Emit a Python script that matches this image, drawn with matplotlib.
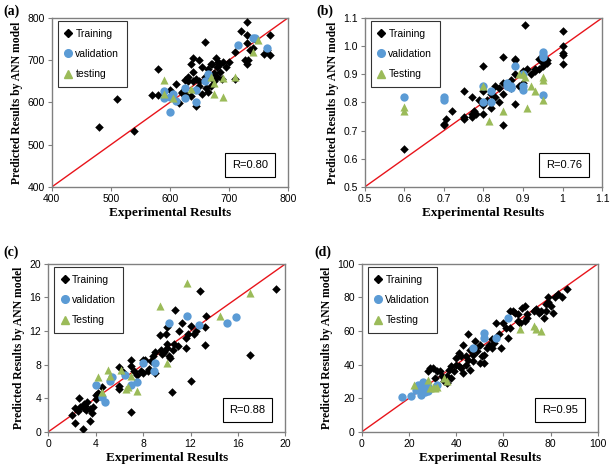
import matplotlib
matplotlib.use("Agg")
import matplotlib.pyplot as plt
from matplotlib.lines import Line2D

# ---------------- data ----------------
# panel (a)
a_train_x = [480,510,540,580,570,580,600,610,615,620,625,630,630,635,635,640,640,645,645,650,650,650,655,660,660,662,665,670,670,675,675,678,680,680,685,685,688,690,695,700,710,710,720,728,730,730,730,730,732,735,740,745,760,765,770,770,620,625,640,655,665,672,682]
a_train_y = [541,607,533,680,617,617,630,643,598,625,620,650,660,690,615,705,672,655,592,700,650,640,685,742,660,635,625,690,640,670,650,705,685,660,690,672,655,695,685,695,720,655,770,700,790,760,740,690,700,725,730,750,715,725,760,712,622,652,650,620,678,690,695]
a_val_x = [590,590,600,605,610,625,625,645,645,665,715,740,745,765,600,660]
a_val_y = [628,610,577,620,603,610,635,630,600,668,737,752,752,730,612,650]
a_test_x = [590,590,605,635,670,675,675,690,690,710,740,750]
a_test_y = [652,620,610,632,660,620,645,612,658,660,720,748]

# panel (b)
b_train_x = [0.6,0.7,0.7,0.705,0.72,0.75,0.75,0.75,0.77,0.77,0.78,0.775,0.79,0.8,0.8,0.8,0.81,0.82,0.82,0.83,0.83,0.84,0.84,0.85,0.85,0.85,0.85,0.86,0.87,0.88,0.88,0.88,0.88,0.89,0.9,0.905,0.91,0.92,0.93,0.94,0.94,0.95,0.95,0.96,0.96,1.0,1.0,1.0,1.0,1.0,0.8,0.82,0.77,0.9,0.87,0.93,0.95]
b_train_y = [0.635,0.72,0.725,0.74,0.77,0.74,0.75,0.84,0.82,0.75,0.76,0.77,0.81,0.93,0.76,0.79,0.81,0.8,0.78,0.86,0.82,0.85,0.8,0.96,0.72,0.87,0.83,0.86,0.88,0.955,0.95,0.795,0.9,0.86,0.91,1.075,0.92,0.9,0.91,0.92,0.955,0.93,0.94,0.94,0.95,1.055,1.0,0.97,0.975,0.935,0.84,0.83,0.76,0.87,0.85,0.92,0.955]
b_val_x = [0.6,0.7,0.7,0.8,0.8,0.82,0.82,0.86,0.86,0.87,0.87,0.88,0.9,0.9,0.95,0.95,0.95,0.95,0.9]
b_val_y = [0.82,0.81,0.82,0.86,0.8,0.84,0.8,0.87,0.86,0.85,0.86,0.93,0.86,0.845,0.98,0.97,0.96,0.825,0.9]
b_test_x = [0.6,0.6,0.8,0.815,0.85,0.89,0.9,0.905,0.91,0.92,0.93,0.95,0.95,0.95]
b_test_y = [0.785,0.77,0.86,0.735,0.77,0.9,0.9,0.89,0.78,0.86,0.84,0.89,0.88,0.81]

# panel (c)
c_train_x = [2,2.3,2.3,2.5,2.6,2.7,2.9,3,3,3.1,3.2,3.3,3.5,3.5,3.7,3.8,4,4,4.5,6,6,6,6.3,7,7,7,7.2,7.5,7.8,8,8,8.2,8.4,8.5,8.7,9,9,9.4,9.6,9.8,9.9,10,10,10.2,10.3,10.4,10.5,10.6,10.7,10.9,11,11.3,11.6,11.6,11.8,12,12,12.3,12.5,12.8,13.2,13.2,13.3,17,19.2,9.5,8.8,10,4.2]
c_train_y = [2,1.1,2.8,2.5,4,3,0.4,2.9,3.3,3.1,2.6,3.6,2.7,1.3,2.3,3,4.4,3.9,5.3,7.7,5.5,5.1,7.1,8.6,7.9,2.4,7.3,6.8,7.2,7,8.6,8.5,7.2,7.5,8.4,9.5,7,11.5,9.3,9.5,11.7,12.5,10.5,9,8.8,4.7,9.8,10.5,14.5,10.2,12,13,11.2,10,11.7,12.6,6,11.6,12,16.8,10.3,12.5,13.8,9.2,17,9.8,9,10,4.6]
c_val_x = [4,4.5,4.8,5.2,5.4,6.5,7,7.5,8,8.9,9,10.2,11.7,12.7,15.1,15.8]
c_val_y = [5.6,4.1,3.6,6,6.5,6.8,5.6,5.9,8.2,7.3,8.2,13,13.8,12.7,13,13.7]
c_test_x = [4.2,4.5,5,5.2,6.1,6.6,6.7,7,7.5,9.4,10,11.7,14.5,17]
c_test_y = [6.5,4.8,7.4,6.6,7.4,5.1,5.4,6.7,4.9,15,8.2,17.7,13.8,16.5]

# panel (d)
d_train_x = [28,29,30,31,32,33,35,36,37,38,38,39,40,40,41,42,42,43,43,44,45,45,46,46,47,47,48,49,50,50,51,52,52,53,54,55,56,57,58,59,60,61,62,63,64,65,66,67,68,69,69,70,70,73,74,75,76,77,78,78,79,80,81,82,83,85,87,36,34,44,48,41,55,63,66,79]
d_train_y = [36,38,38,32,36,36,30,33,37,39,32,36,40,44,47,38,45,35,52,40,58,43,49,37,42,46,54,48,52,41,45,41,46,50,52,55,53,65,58,50,65,62,56,72,72,71,70,65,74,75,66,68,70,72,73,71,72,68,72,76,77,75,71,80,82,80,85,29,33,45,50,39,50,62,66,80]
d_val_x = [17,21,23,24,25,25,26,27,28,28,32,47,52,52,57,62,24,26]
d_val_y = [20.5,21.5,25,28,27,22,29.5,24,24.5,27,28,50,56,59,56,68,26,25]
d_test_x = [22,28,29,30,31,32,35,36,67,73,74,76]
d_test_y = [28,31,26,27,26,26.5,32,30,61,63,61,60]

panels = [
    dict(tag="(a)", lim=(400, 800), ticks=[400, 500, 600, 700, 800], fmt="{:.0f}",
         tr=(a_train_x, a_train_y), va=(a_val_x, a_val_y), te=(a_test_x, a_test_y),
         names=["Training", "validation", "testing"], r="R=0.80"),
    dict(tag="(b)", lim=(0.5, 1.1), ticks=[0.5, 0.6, 0.7, 0.8, 0.9, 1.0, 1.1], fmt="{:.1f}",
         xfmt=["0.5", "0.6", "0.7", "0.8", "0.9", "1", "1.1"],
         tr=(b_train_x, b_train_y), va=(b_val_x, b_val_y), te=(b_test_x, b_test_y),
         names=["Training", "validation", "Testing"], r="R=0.76"),
    dict(tag="(c)", lim=(0, 20), ticks=[0, 4, 8, 12, 16, 20], fmt="{:.0f}",
         tr=(c_train_x, c_train_y), va=(c_val_x, c_val_y), te=(c_test_x, c_test_y),
         names=["Training", "validation", "Testing"], r="R=0.88"),
    dict(tag="(d)", lim=(0, 100), ticks=[0, 20, 40, 60, 80, 100], fmt="{:.0f}",
         tr=(d_train_x, d_train_y), va=(d_val_x, d_val_y), te=(d_test_x, d_test_y),
         names=["Training", "Validation", "Testing"], r="R=0.95"),
]

BLUE = "#5B9BD5"
GREEN = "#9BBB59"
RED = "#E8141B"
SANS = "Liberation Sans"
SERIF = "Liberation Serif"

W, H = 610, 472
fig = plt.figure(figsize=(W / 100, H / 100), dpi=100)
rects = [
    [0.085, 0.604, 0.387, 0.358],
    [0.598, 0.604, 0.389, 0.358],
    [0.079, 0.085, 0.389, 0.356],
    [0.593, 0.085, 0.387, 0.356],
]
tag_px = [(3, 11), (316, 11), (3, 252), (314, 252)]

for p, rect, tp in zip(panels, rects, tag_px):
    ax = fig.add_axes(rect)
    lo, hi = p["lim"]
    ax.set_xlim(lo, hi)
    ax.set_ylim(lo, hi)
    ax.plot([lo, hi], [lo, hi], color=RED, lw=1.0, zorder=1)
    ax.scatter(*p["tr"], marker="D", s=19, color="black", zorder=3, linewidths=0)
    ax.scatter(*p["va"], marker="o", s=36, color=BLUE, zorder=4, linewidths=0)
    ax.scatter(*p["te"], marker="^", s=34, color=GREEN, zorder=5, linewidths=0)
    ax.set_xticks(p["ticks"])
    ax.set_yticks(p["ticks"])
    xl = p.get("xfmt", [p["fmt"].format(t) for t in p["ticks"]])
    ax.set_xticklabels(xl, fontfamily=SANS, fontsize=7.5)
    ax.set_yticklabels([p["fmt"].format(t) for t in p["ticks"]], fontfamily=SANS, fontsize=7.5)
    ax.tick_params(direction="out", length=3, width=0.8, color="#808080", pad=2)
    for s in ax.spines.values():
        s.set_color("#808080")
        s.set_linewidth(1.0)
    ax.set_xlabel("Experimental Results", fontfamily=SERIF, fontweight="bold", fontsize=9.5, labelpad=2)
    ax.set_ylabel("Predicted Results by ANN model", fontfamily=SERIF, fontweight="bold", fontsize=8.4, labelpad=3)
    handles = [
        Line2D([], [], marker="D", ls="none", color="black", markersize=4),
        Line2D([], [], marker="o", ls="none", color=BLUE, markersize=5.5),
        Line2D([], [], marker="^", ls="none", color=GREEN, markersize=5.5),
    ]
    leg = ax.legend(handles, p["names"], loc="upper left", bbox_to_anchor=(0.025, 0.98),
                    frameon=True, fancybox=False, prop=dict(family=SANS, size=7.5),
                    handlelength=0.6, handletextpad=0.4, labelspacing=1.0,
                    borderpad=0.7, borderaxespad=0.0)
    leg.get_frame().set_edgecolor("black")
    leg.get_frame().set_linewidth(0.8)
    ax.text(0.84, 0.13, p["r"], transform=ax.transAxes, ha="center", va="center",
            fontfamily=SANS, fontsize=8,
            bbox=dict(boxstyle="square,pad=0.6", fc="white", ec="black", lw=0.8))
    fig.text(tp[0] / W, 1 - tp[1] / H, p["tag"], fontfamily=SERIF, fontweight="bold",
             fontsize=10, ha="left", va="center")

fig.savefig("out.png", dpi=100)
